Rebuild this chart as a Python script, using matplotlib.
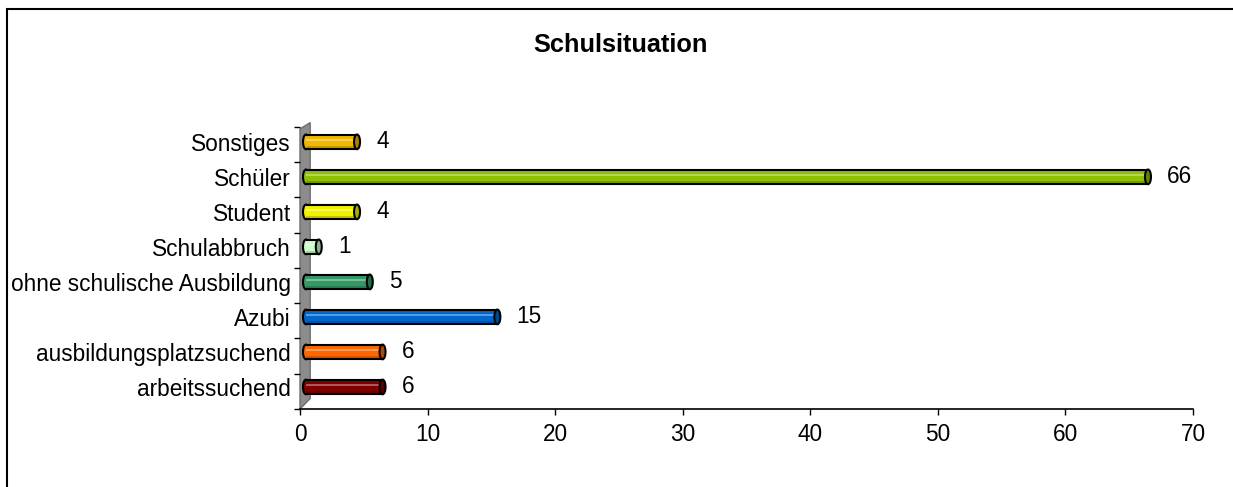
import matplotlib
matplotlib.use("Agg")
from matplotlib import pyplot as plt
from matplotlib import transforms
from matplotlib.patches import Rectangle, Ellipse, Polygon
from matplotlib.colors import to_rgb
import numpy as np

plt.rcParams['font.family'] = ['Liberation Sans', 'DejaVu Sans']

kategorien = ["arbeitssuchend", "ausbildungsplatzsuchend", "Azubi",
              "ohne schulische Ausbildung", "Schulabbruch", "Student",
              "Schüler", "Sonstiges"]
werte = [6, 6, 15, 5, 1, 4, 66, 4]
farben = ["#800000", "#FF6600", "#0066CC", "#339966",
          "#CCFFCC", "#F2F200", "#8DC000", "#F0B800"]
x_ticks = [0, 10, 20, 30, 40, 50, 60, 70]


def mischen(c, ziel, anteil):
    c = np.array(to_rgb(c))
    return tuple(c + (np.array(ziel) - c) * anteil)


fig = plt.figure(figsize=(12.33, 4.87), dpi=100)
ax = fig.add_axes([300 / 1233, 1 - 409 / 487, 893 / 1233, 285 / 487])

y_unten = -0.63
ax.set_xlim(0, 70)
ax.set_ylim(y_unten, 7.51)

# Balken leicht nach rechts versetzt (3D-Tiefe)
versatz = ax.transData + transforms.ScaledTranslation(0.06, 0, fig.dpi_scale_trans)
h = 0.42
kappe = 0.47

# graue Rueckwand links
ax.add_patch(Polygon([(0, y_unten), (0, 7.37), (0.8, 7.55), (0.8, y_unten + 0.3)],
                     closed=True, facecolor="#8C8C8C", edgecolor="#6E6E6E",
                     linewidth=1, zorder=1, clip_on=False))

for i, (w, f) in enumerate(zip(werte, farben)):
    y = i
    # linke Rundung
    ax.add_patch(Ellipse((0, y), kappe, h, facecolor=f, edgecolor="black",
                         linewidth=1.5, transform=versatz, zorder=3))
    ax.add_patch(Rectangle((0, y - h / 2), w, h, facecolor=f, edgecolor="none",
                           transform=versatz, zorder=4))
    # Schattierung des Zylinders
    ax.add_patch(Rectangle((0, y - h / 2), w, h * 0.25,
                           facecolor=mischen(f, (0, 0, 0), 0.18), edgecolor="none",
                           transform=versatz, zorder=4))
    ax.add_patch(Rectangle((0, y + h * 0.08), w, h * 0.12,
                           facecolor=mischen(f, (1, 1, 1), 0.35), edgecolor="none",
                           transform=versatz, zorder=4))
    ax.plot([0, w], [y + h / 2, y + h / 2], color="black", lw=1.5,
            transform=versatz, zorder=5, solid_capstyle="butt")
    ax.plot([0, w], [y - h / 2, y - h / 2], color="black", lw=1.5,
            transform=versatz, zorder=5, solid_capstyle="butt")
    # rechte Kappe
    ax.add_patch(Ellipse((w, y), kappe, h, facecolor=mischen(f, (0, 0, 0), 0.3),
                         edgecolor="black", linewidth=1.5, transform=versatz, zorder=6))
    ax.annotate(str(w), xy=(w, y), xytext=(18, 0), textcoords="offset points",
                ha="left", va="center", fontsize=16.3, zorder=7)

ax.set_yticks(range(len(kategorien)))
ax.set_yticklabels(kategorien, fontsize=16.3)
ax.set_yticks([y_unten + k * 1.008 for k in range(9)], minor=True)
ax.tick_params(axis="y", which="major", length=0, pad=6.5)
ax.tick_params(axis="y", which="minor", length=4, width=1, color="black")
ax.set_xticks(x_ticks)
ax.tick_params(axis="x", labelsize=16.3, length=4, width=1, direction="out", pad=6)

for s in ["top", "right", "left"]:
    ax.spines[s].set_visible(False)
ax.spines["bottom"].set_linewidth(1.2)

fig.text(621 / 1233, 1 - 45 / 487, "Schulsituation", ha="center", va="center",
         fontsize=18.3, fontweight="bold")

# Rahmen um das Diagramm
fig.patches.append(Rectangle((7 / 1233, -0.05), 1.1, 1 - 9 / 487 + 0.05,
                             transform=fig.transFigure, fill=False,
                             edgecolor="black", linewidth=1.5))

fig.savefig("out.png", dpi=100)
